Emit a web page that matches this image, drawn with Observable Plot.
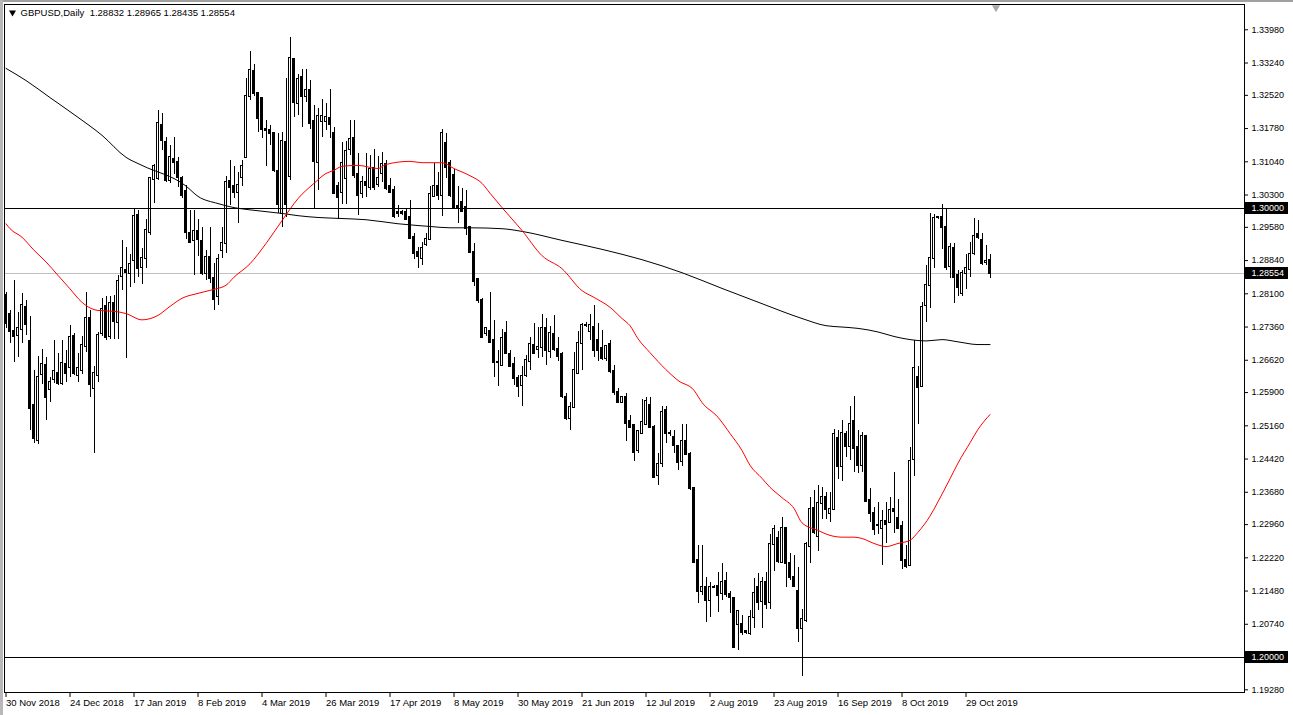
<!DOCTYPE html>
<html><head><meta charset="utf-8">
<script src="https://cdn.jsdelivr.net/npm/d3@7"></script>
<script src="https://cdn.jsdelivr.net/npm/@observablehq/plot@0.6"></script>
<style>
body{margin:0;background:#fff;}
#wrap{position:relative;width:1293px;height:715px;overflow:hidden;background:#fff;}
#wrap svg{position:absolute;left:0;top:0;}
.edge{position:absolute;background:#a0a0a0;}
</style></head><body><div id="wrap"></div>
<script>
// ---- data (GBPUSD daily, bar 0 = 30 Nov 2018) ----
const opens = [
1.2806,1.2764,1.2725,1.2717,1.2730,1.2780,1.2704,1.2561,1.2483,1.2630,
1.2650,1.2596,1.2619,1.2633,1.2610,1.2653,1.2645,1.2714,1.2628,1.2639,
1.2693,1.2754,1.2600,1.2628,1.2722,1.2782,1.2715,1.2789,1.2745,1.2849,
1.2862,1.2855,1.2884,1.2984,1.2868,1.2888,1.2947,1.3065,1.3066,1.3185,
1.3148,1.3062,1.3110,1.3103,1.3066,1.3038,1.2944,1.2929,1.2948,1.2926,
1.2855,1.2890,1.2843,1.2803,1.2907,1.2922,1.3061,1.3049,1.3036,1.3068,
1.3113,1.3249,1.3306,1.3257,1.3244,1.3177,1.3174,1.3166,1.3083,1.2988,
1.3148,1.3072,1.3331,1.3233,1.3292,1.3250,1.3263,1.3194,1.3103,1.3194,
1.3194,1.3200,1.3168,1.3048,1.3036,1.3066,1.3131,1.3155,1.3076,1.3034,
1.3059,1.3047,1.3088,1.3053,1.3077,1.3099,1.3048,1.3040,1.2990,1.2990,
1.2990,1.2981,1.2936,1.2903,1.2888,1.2919,1.2930,1.3027,1.3049,1.3029,
1.3144,1.3101,1.3074,1.3005,1.3014,1.3002,1.2957,1.2901,1.2841,1.2795,
1.2721,1.2725,1.2706,1.2658,1.2650,1.2722,1.2675,1.2653,1.2621,1.2606,
1.2628,1.2660,1.2695,1.2685,1.2691,1.2733,1.2682,1.2719,1.2685,1.2675,
1.2578,1.2532,1.2556,1.2632,1.2700,1.2740,1.2727,1.2734,1.2706,1.2688,
1.2665,1.2697,1.2638,1.2591,1.2569,1.2580,1.2526,1.2517,1.2461,1.2498,
1.2519,1.2561,1.2513,1.2405,1.2431,1.2549,1.2498,1.2491,1.2470,1.2437,
1.2481,1.2452,1.2376,1.2217,1.2148,1.2155,1.2128,1.2157,1.2158,1.2142,
1.2169,1.2140,1.2131,1.2074,1.2074,1.2057,1.2054,1.2088,1.2155,1.2125,
1.2168,1.2123,1.2252,1.2264,1.2212,1.2288,1.2209,1.2179,1.2148,1.2064,
1.2082,1.2248,1.2331,1.2270,1.2344,1.2356,1.2320,1.2329,1.2487,1.2425,
1.2497,1.2470,1.2526,1.2467,1.2428,1.2492,1.2350,1.2321,1.2294,1.2287,
1.2303,1.2300,1.2330,1.2309,1.2292,1.2216,1.2205,1.2440,1.2624,1.2604,
1.2784,1.2829,1.2888,1.2979,1.2979,1.2957,1.2871,1.2910,1.2851,1.2810,
1.2856,1.2864,1.2899,1.2942,1.2929,1.2879,1.28832];
const highs = [
1.2814,1.2773,1.2840,1.2769,1.2810,1.2795,1.2760,1.2639,1.2670,1.2685,
1.2669,1.2624,1.2706,1.2678,1.2706,1.2684,1.2740,1.2721,1.2676,1.2714,
1.2814,1.2773,1.2647,1.2724,1.2799,1.2803,1.2804,1.2806,1.2851,1.2929,
1.2914,1.2898,1.2999,1.2996,1.2910,1.2975,1.3070,1.3097,1.3218,1.3211,
1.3159,1.3140,1.3159,1.3114,1.3072,1.3051,1.2995,1.2995,1.2975,1.2958,
1.2906,1.2958,1.2877,1.2898,1.2958,1.3072,1.3107,1.3094,1.3081,1.3108,
1.3289,1.3350,1.3320,1.3259,1.3248,1.3196,1.3185,1.3168,1.3168,1.3170,
1.3289,1.3380,1.3333,1.3298,1.3309,1.3309,1.3285,1.3229,1.3222,1.3243,
1.3233,1.3265,1.3181,1.3059,1.3148,1.3150,1.3196,1.3196,1.3122,1.3071,
1.3122,1.3118,1.3131,1.3116,1.3125,1.3108,1.3066,1.3048,1.3007,1.2995,
1.2999,1.3018,1.2944,1.2914,1.2925,1.2945,1.3049,1.3101,1.3081,1.3175,
1.3168,1.3107,1.3086,1.3048,1.3044,1.3040,1.2958,1.2921,1.2843,1.2799,
1.2736,1.2814,1.2751,1.2684,1.2730,1.2748,1.2684,1.2669,1.2628,1.2647,
1.2673,1.2713,1.2743,1.2736,1.2764,1.2754,1.2737,1.2762,1.2713,1.2680,
1.2587,1.2569,1.2680,1.2727,1.2743,1.2745,1.2765,1.2784,1.2743,1.2728,
1.2695,1.2706,1.2650,1.2598,1.2580,1.2589,1.2539,1.2520,1.2506,1.2574,
1.2578,1.2580,1.2517,1.2454,1.2559,1.2558,1.2505,1.2506,1.2472,1.2520,
1.2520,1.2457,1.2378,1.2250,1.2250,1.2179,1.2168,1.2160,1.2190,1.2209,
1.2190,1.2148,1.2134,1.2105,1.2093,1.2060,1.2105,1.2175,1.2186,1.2179,
1.2190,1.2274,1.2294,1.2281,1.2311,1.2290,1.2231,1.2227,1.2201,1.2106,
1.2257,1.2357,1.2372,1.2383,1.2379,1.2368,1.2368,1.2507,1.2506,1.2528,
1.2504,1.2559,1.2581,1.2506,1.2502,1.2495,1.2376,1.2335,1.2346,1.2327,
1.2346,1.2357,1.2411,1.2353,1.2302,1.2250,1.2468,1.2706,1.2648,1.2790,
1.2873,1.2989,1.2987,1.2982,1.3010,1.2999,1.2923,1.2923,1.2862,1.2862,
1.2898,1.2925,1.2977,1.2973,1.2944,1.2918,1.28965];
const lows = [
1.2732,1.2699,1.2656,1.2669,1.2699,1.2717,1.2506,1.2476,1.2474,1.2608,
1.2528,1.2567,1.2610,1.2606,1.2606,1.2613,1.2624,1.2628,1.2613,1.2630,
1.2680,1.2580,1.2454,1.2613,1.2714,1.2706,1.2708,1.2708,1.2708,1.2817,
1.2665,1.2825,1.2832,1.2847,1.2831,1.2866,1.2940,1.3011,1.3062,1.3129,
1.3059,1.3055,1.3075,1.3047,1.3022,1.2932,1.2921,1.2851,1.2892,1.2851,
1.2840,1.2832,1.2773,1.2784,1.2888,1.2899,1.3007,1.3022,1.2966,1.3048,
1.3111,1.3240,1.3249,1.3170,1.3155,1.3094,1.3140,1.3081,1.2988,1.2958,
1.2981,1.3063,1.3203,1.3207,1.3181,1.3235,1.3175,1.2997,1.3040,1.3159,
1.3174,1.3155,1.3033,1.2975,1.3010,1.3010,1.3118,1.3066,1.2984,1.3022,
1.3025,1.3040,1.3040,1.3047,1.3059,1.3040,1.3033,1.2977,1.2981,1.2985,
1.2973,1.2932,1.2886,1.2866,1.2872,1.2915,1.2929,1.3025,1.3018,1.2982,
1.3066,1.3025,1.3002,1.2966,1.2992,1.2940,1.2899,1.2826,1.2789,1.2710,
1.2714,1.2699,1.2623,1.2604,1.2647,1.2675,1.2645,1.2606,1.2580,1.2558,
1.2624,1.2639,1.2676,1.2665,1.2669,1.2650,1.2665,1.2682,1.2660,1.2576,
1.2528,1.2506,1.2554,1.2630,1.2639,1.2735,1.2706,1.2669,1.2660,1.2662,
1.2660,1.2632,1.2584,1.2566,1.2566,1.2480,1.2509,1.2437,1.2454,1.2497,
1.2517,1.2512,1.2398,1.2383,1.2424,1.2476,1.2493,1.2455,1.2417,1.2425,
1.2450,1.2373,1.2209,1.2120,1.2138,1.2079,1.2088,1.2154,1.2101,1.2127,
1.2134,1.2097,1.2019,1.2016,1.2049,1.2052,1.2049,1.2064,1.2105,1.2064,
1.2108,1.2108,1.2192,1.2209,1.2209,1.2157,1.2171,1.2157,1.2034,1.1958,
1.2079,1.2210,1.2275,1.2235,1.2307,1.2307,1.2301,1.2327,1.2396,1.2391,
1.2446,1.2439,1.2413,1.2409,1.2411,1.2346,1.2301,1.2272,1.2275,1.2205,
1.2253,1.2298,1.2277,1.2284,1.2196,1.2198,1.2203,1.2403,1.2520,1.2602,
1.2747,1.2777,1.2866,1.2976,1.2908,1.2863,1.2844,1.2788,1.2803,1.2804,
1.2819,1.2846,1.2895,1.2932,1.2873,1.2873,1.28435];
const closes = [
1.2743,1.2725,1.2714,1.2732,1.2783,1.2742,1.2555,1.2487,1.2624,1.2652,
1.2580,1.2613,1.2636,1.2610,1.2654,1.2633,1.2712,1.2632,1.2643,1.2695,
1.2754,1.2607,1.2632,1.2717,1.2774,1.2712,1.2788,1.2749,1.2838,1.2866,
1.2858,1.2875,1.2982,1.2866,1.2889,1.2951,1.3066,1.3093,1.3189,1.3151,
1.3062,1.3114,1.3102,1.3070,1.3030,1.2947,1.2925,1.2949,1.2930,1.2855,
1.2890,1.2843,1.2797,1.2886,1.2922,1.3059,1.3046,1.3036,1.3051,1.3094,
1.3249,1.3307,1.3257,1.3200,1.3176,1.3174,1.3166,1.3085,1.3010,1.3149,
1.3010,1.3333,1.3237,1.3287,1.3250,1.3263,1.3190,1.3105,1.3205,1.3205,
1.3202,1.3187,1.3034,1.3025,1.3101,1.3128,1.3153,1.3074,1.3029,1.3059,
1.3051,1.3086,1.3047,1.3066,1.3097,1.3044,1.3036,1.2982,1.2988,1.2989,
1.2975,1.2934,1.2899,1.2893,1.2910,1.2930,1.3031,1.3048,1.3029,1.3168,
1.3092,1.3029,1.3003,1.3003,1.2994,1.2955,1.2901,1.2838,1.2794,1.2713,
1.2732,1.2702,1.2658,1.2657,1.2710,1.2678,1.2648,1.2621,1.2604,1.2626,
1.2661,1.2697,1.2678,1.2691,1.2732,1.2684,1.2721,1.2685,1.2670,1.2581,
1.2532,1.2556,1.2639,1.2700,1.2739,1.2740,1.2739,1.2684,1.2684,1.2665,
1.2693,1.2636,1.2591,1.2569,1.2578,1.2521,1.2513,1.2457,1.2503,1.2524,
1.2570,1.2513,1.2402,1.2430,1.2546,1.2498,1.2498,1.2472,1.2435,1.2481,
1.2452,1.2376,1.2212,1.2148,1.2157,1.2127,1.2157,1.2157,1.2138,1.2168,
1.2140,1.2133,1.2023,1.2102,1.2056,1.2056,1.2088,1.2142,1.2123,1.2166,
1.2119,1.2252,1.2284,1.2214,1.2288,1.2209,1.2179,1.2159,1.2064,1.2084,
1.2252,1.2329,1.2279,1.2342,1.2356,1.2329,1.2329,1.2497,1.2425,1.2498,
1.2469,1.2520,1.2465,1.2428,1.2492,1.2348,1.2320,1.2284,1.2294,1.2304,
1.2296,1.2327,1.2326,1.2287,1.2215,1.2203,1.2437,1.2643,1.2602,1.2780,
1.2829,1.2888,1.2977,1.2979,1.2957,1.2869,1.2913,1.2847,1.2823,1.2856,
1.2866,1.2898,1.2938,1.2935,1.2878,1.2881,1.28554];

// moving averages (bar index, value)
const redIdx = [0,1,4,7,10,13,16,19,23,27,30,34,38,41,44,48,52,55,57,61,65,69,73,77,80,82,84,88,93,95,101,104,109,112,116,119,121,124,129,134,139,144,147,151,154,156,158,161,165,168,172,174,178,181,184,186,189,191,194,197,199,203,206,209,212,214,217,220,223,226,228,231,233,236,238,241,243,246];
const redVal = [1.2966,1.2955,1.2936,1.2907,1.2881,1.2851,1.2821,1.2791,1.2773,1.2771,1.2766,1.2752,1.2762,1.2782,1.2800,1.2811,1.2820,1.2829,1.2847,1.2877,1.2922,1.2973,1.3022,1.3056,1.3078,1.3085,1.3094,1.3096,1.3089,1.3098,1.3105,1.3102,1.3102,1.3089,1.3073,1.3056,1.3034,1.3002,1.2951,1.2895,1.2866,1.2817,1.2802,1.2780,1.2755,1.2739,1.2710,1.2679,1.2641,1.2617,1.2595,1.2568,1.2535,1.2499,1.2461,1.2428,1.2399,1.2379,1.2356,1.2332,1.2300,1.2283,1.2272,1.2268,1.2268,1.2265,1.2254,1.2247,1.2254,1.2261,1.2279,1.2315,1.2347,1.2398,1.2433,1.2478,1.2508,1.2541];
const blackIdx = [0,5,11,18,24,30,34,45,48,53,57,61,65,69,73,78,83,90,98,103,106,111,116,124,129,139,149,159,169,179,189,199,205,209,213,218,222,226,230,234,238,243,246];
const blackVal = [1.3312,1.3285,1.3247,1.3203,1.3163,1.3114,1.3096,1.3050,1.3027,1.3011,1.3002,1.2997,1.2993,1.2989,1.2984,1.2980,1.2978,1.2975,1.2966,1.2962,1.2960,1.2957,1.2957,1.2955,1.2949,1.2929,1.2909,1.2886,1.2857,1.2822,1.2788,1.2755,1.2739,1.2736,1.2733,1.2725,1.2715,1.2708,1.2705,1.2708,1.2703,1.2697,1.2697];

const dateLabels = ["30 Nov 2018","24 Dec 2018","17 Jan 2019","8 Feb 2019","4 Mar 2019","26 Mar 2019","17 Apr 2019","8 May 2019","30 May 2019","21 Jun 2019","12 Jul 2019","2 Aug 2019","23 Aug 2019","16 Sep 2019","8 Oct 2019","29 Oct 2019"];
const dateIdx = [0,16,32,48,64,80,96,112,128,144,160,176,192,208,224,240];
const priceTicks = [1.3398,1.3324,1.3252,1.3178,1.3104,1.3030,1.2958,1.2884,1.2810,1.2736,1.2662,1.2590,1.2516,1.2442,1.2368,1.2296,1.2222,1.2148,1.2074,1.1928];
const levels = [1.30000, 1.20000];
const bid = 1.28554;
const symbol = "GBPUSD,Daily";

// ---- build ----
const candles = opens.map((o, i) => ({i, o, h: highs[i], l: lows[i], c: closes[i]}));
const up = candles.filter(d => d.c >= d.o);
const down = candles.filter(d => d.c < d.o);
const red = redIdx.map((i, k) => ({i, v: redVal[k]}));
const blk = blackIdx.map((i, k) => ({i, v: blackVal[k]}));
const labelMap = new Map(dateIdx.map((d, k) => [d, dateLabels[k]]));
const f5 = d => d.toFixed(5);
const last = candles[candles.length - 1];
const title = `${symbol}  ${f5(last.o)} ${f5(last.h)} ${f5(last.l)} ${f5(last.c)}`;
const xDom = [-0.375, 309.625];
const yDom = [1.192205, 1.345434];
const boxes = [...levels, bid];
const crisp = {shapeRendering: "crispEdges"};

const chart = Plot.plot({
  width: 1293, height: 715,
  marginLeft: 4, marginRight: 49, marginTop: 4, marginBottom: 23,
  x: {type: "linear", domain: xDom, axis: null, label: null},
  y: {type: "linear", domain: yDom, axis: null, label: null},
  style: {fontFamily: "'Liberation Sans', Arial, sans-serif", fontSize: "9px", color: "black", background: "white", overflow: "visible"},
  marks: [
    Plot.ruleY([bid], {stroke: "#c0c0c0", strokeWidth: 1, ...crisp}),
    Plot.ruleX(candles, {x: "i", y1: "l", y2: "h", stroke: "black", strokeWidth: 1, ...crisp}),
    Plot.rect(down, {x1: d => d.i - 0.25, x2: d => d.i + 0.25, y1: "o", y2: "c", fill: "black", stroke: "black", strokeWidth: 1, insetTop: -0.5, insetBottom: -0.5, ...crisp}),
    Plot.rect(up, {x1: d => d.i - 0.25, x2: d => d.i + 0.25, y1: "o", y2: "c", fill: "white", stroke: "black", strokeWidth: 1, insetTop: -0.5, insetBottom: -0.5, ...crisp}),
    Plot.line(blk, {x: "i", y: "v", stroke: "black", strokeWidth: 1, curve: "monotone-x"}),
    Plot.line(red, {x: "i", y: "v", stroke: "#ff0000", strokeWidth: 1, curve: "monotone-x"}),
    Plot.ruleY(levels, {stroke: "black", strokeWidth: 1, ...crisp}),
    Plot.frame({stroke: "black", strokeWidth: 1, ...crisp}),
    Plot.axisY(priceTicks, {anchor: "right", label: null, tickSize: 3, tickPadding: 4, tickFormat: f5, fontSize: 9}),
    Plot.axisX(dateIdx, {anchor: "bottom", label: null, tickSize: 5, tickPadding: 2, tickFormat: d => labelMap.get(d), textAnchor: "start", fontSize: 9.5}),
    Plot.rect(boxes, {x1: () => xDom[1], x2: () => xDom[1], y1: d => d, y2: d => d, insetLeft: 1, insetRight: -44, insetTop: -6, insetBottom: -6, fill: "black", ...crisp}),
    Plot.text(boxes, {x: () => xDom[1], y: d => d, text: f5, dx: 7, textAnchor: "start", fill: "white", fontSize: 9}),
    Plot.dot([0], {frameAnchor: "top-left", dx: 8, dy: 8, symbol: "triangle", rotate: 180, r: 2.6, fill: "black", stroke: "none"}),
    Plot.text([title], {frameAnchor: "top-left", dx: 16, dy: 8, lineAnchor: "middle", textAnchor: "start", fontSize: 9.5, fill: "black"}),
    Plot.dot([0], {x: () => candles.length + 0.5, frameAnchor: "top", dy: 3, symbol: "triangle", rotate: 180, r: 3, fill: "#a8a8a8", stroke: "none"})
  ]
});
const wrap = document.getElementById("wrap");
wrap.appendChild(chart);
const t = document.createElement("div"); t.className = "edge"; t.style.cssText = "left:0;top:0;width:1293px;height:2px;"; wrap.appendChild(t);
const l = document.createElement("div"); l.className = "edge"; l.style.cssText = "left:0;top:0;width:3px;height:715px;background:#b8b8b8;"; wrap.appendChild(l);
</script></body></html>
